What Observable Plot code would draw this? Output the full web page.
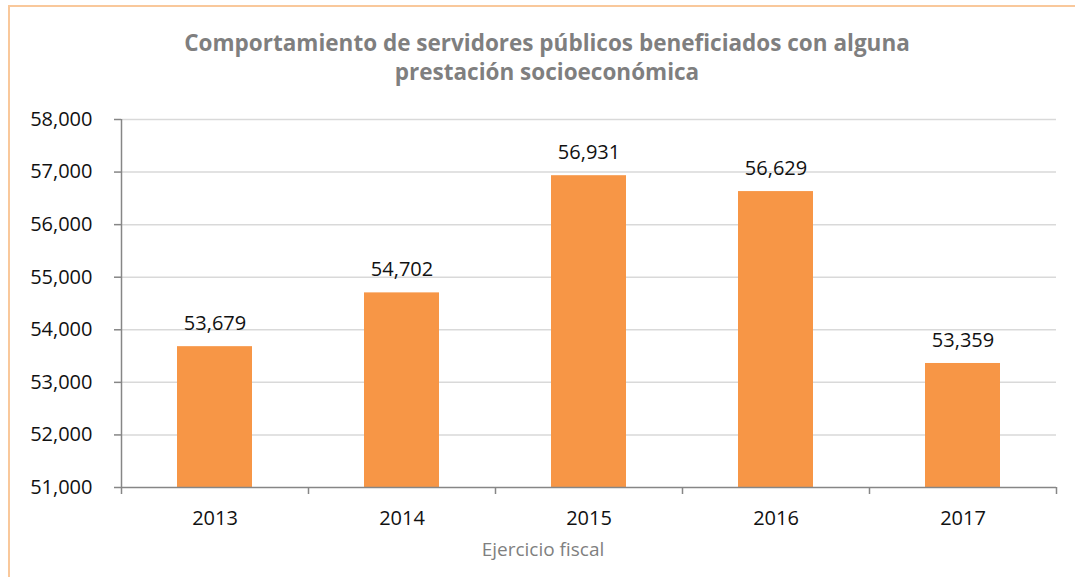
<!DOCTYPE html>
<html>
<head>
<meta charset="utf-8">
<script src="https://cdn.jsdelivr.net/npm/d3@7"></script>
<script src="https://cdn.jsdelivr.net/npm/@observablehq/plot@0.6"></script>
<style>
  html, body { margin: 0; background: #fff; font-family: "Open Sans", "Noto Sans", sans-serif; overflow: hidden; }
  #wrap { position: relative; width: 1075px; height: 577px; overflow: hidden; background: #fff; }
  .edge { position: absolute; background: #F9C89B; }
  #edgeLeft { left: 8px; top: 5px; width: 2px; height: 572px; }
  #edgeTop { left: 8px; top: 5px; width: 1067px; height: 2px; }
  #title { position: absolute; left: 19px; top: 28px; width: 1056px;
           text-align: center; font-weight: 700; font-size: 22.5px; line-height: 29px; color: #7F7F7F; }
  #chart { position: absolute; left: 0; top: 100px; }
</style>
</head>
<body>
<div id="wrap">
  <div class="edge" id="edgeLeft"></div>
  <div class="edge" id="edgeTop"></div>
  <div id="chart"></div>
  <div id="title">Comportamiento de servidores públicos beneficiados con alguna<br>prestación socioeconómica</div>
</div>
<script>
const years = ["2013", "2014", "2015", "2016", "2017"];
const values = [53679, 54702, 56931, 56629, 53359];
const yTicks = [51000, 52000, 53000, 54000, 55000, 56000, 57000, 58000];
const xTitle = "Ejercicio fiscal";

const data = years.map((y, i) => ({year: y, value: values[i]}));
const W = 1075, H = 477, ML = 121, MR = 19, MT = 19, MB = 90;
const step = (W - ML - MR) / years.length;
const base = yTicks[0];
const fmt = d3.format(",");
const axisColor = "#868686";

const chart = Plot.plot({
  width: W, height: H,
  marginLeft: ML, marginRight: MR, marginTop: MT, marginBottom: MB,
  style: {fontFamily: "'Open Sans', 'Noto Sans', sans-serif", fontSize: "20px", color: "#111", background: "transparent"},
  x: {type: "band", domain: years, paddingInner: 0.6, paddingOuter: 0.3, label: null},
  y: {domain: [yTicks[0], yTicks[yTicks.length - 1]], ticks: yTicks, label: null},
  marks: [
    Plot.gridY(yTicks.slice(1), {stroke: "#D9D9D9", strokeOpacity: 1, strokeWidth: 1.5}),
    Plot.barY(data, {x: "year", y1: () => base, y2: "value", fill: "#F79646"}),
    Plot.ruleY([base], {stroke: axisColor, strokeWidth: 1.5}),
    Plot.ruleX([years[0]], {dx: -step / 2, stroke: axisColor, strokeWidth: 1.5}),
    Plot.ruleX(years, {dx: -step / 2, y1: base, y2: base, insetBottom: -7, stroke: axisColor, strokeWidth: 1.5}),
    Plot.ruleX([years[years.length - 1]], {dx: step / 2, y1: base, y2: base, insetBottom: -7, stroke: axisColor, strokeWidth: 1.5}),
    Plot.axisY({ticks: yTicks, tickFormat: fmt, tickSize: 7, tickPadding: 22, stroke: axisColor, strokeWidth: 1.5, fill: "#111", label: null}),
    Plot.axisX({tickSize: 0, tickPadding: 23, fill: "#111", label: null}),
    Plot.text(data, {x: "year", y: "value", text: d => fmt(d.value), dy: -23, fill: "#111"}),
    Plot.text([xTitle], {frameAnchor: "bottom", dx: -46, dy: 68, fill: "#7F7F7F", fontSize: 19})
  ]
});
document.getElementById("chart").appendChild(chart);
</script>
</body>
</html>
